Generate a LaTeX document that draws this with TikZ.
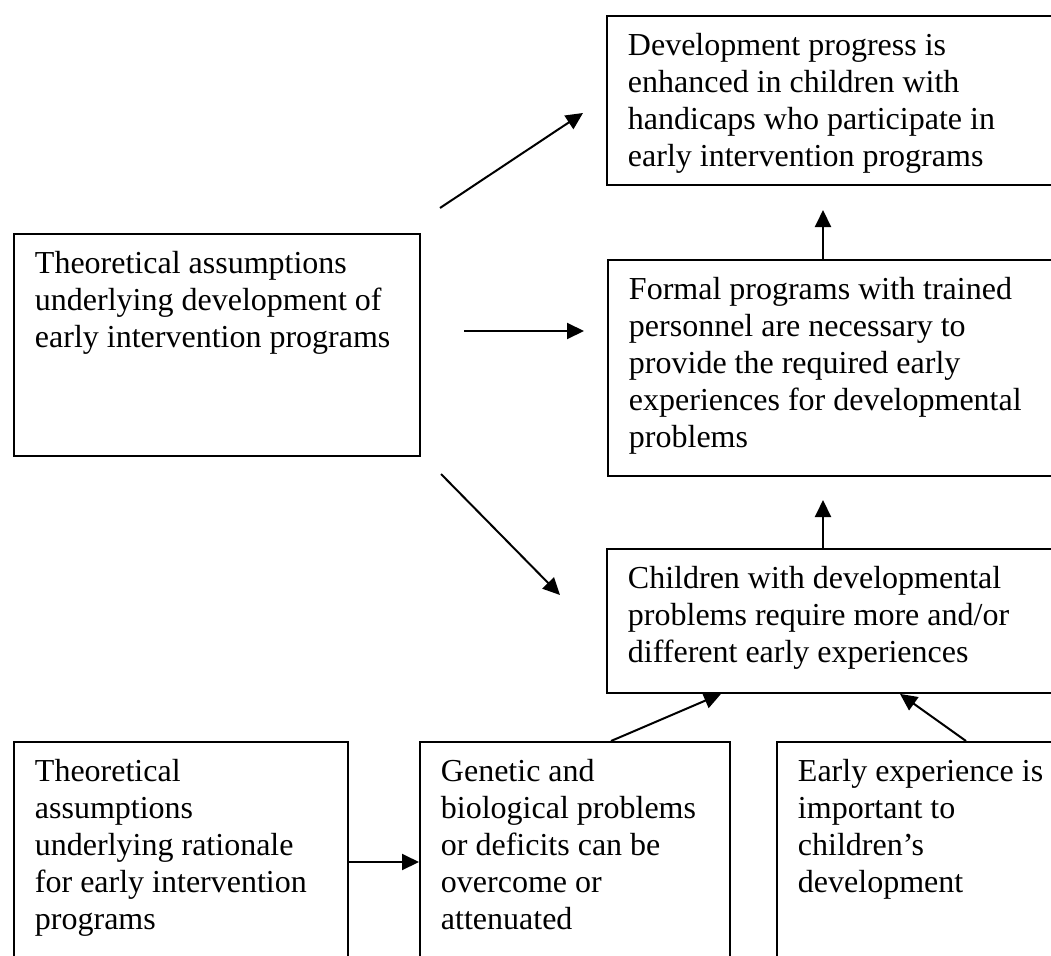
\documentclass[tikz,border=0pt]{standalone}
\usepackage{fontspec}
\setmainfont{Liberation Serif}
\usetikzlibrary{arrows.meta}
\tikzset{
  boxnode/.style={draw, line width=1.9pt, anchor=north west, inner xsep=21pt, inner ysep=13.6pt,
    font=\fontsize{32}{37}\selectfont},
  arr/.style={line width=2pt, -{Triangle[length=17pt,width=16pt]}}
}
\newcommand\boxtext[3]{\parbox[t][#2pt][t]{#1pt}{\raggedright\strut #3}}
\begin{document}
\begin{tikzpicture}[x=1pt,y=-1pt]
\useasboundingbox (0,0) rectangle (1051,955);
\fill[white] (0,0) rectangle (1051,955);
\clip (0,0) rectangle (1051,955);

\node[boxnode] (A) at (606,15) {\boxtext{438}{141.8}{Development progress is\\ enhanced in children with\\ handicaps who participate in\\ early intervention programs}};
\node[boxnode] (B) at (13,233) {\boxtext{364}{194.8}{Theoretical assumptions\\ underlying development of\\ early intervention programs}};
\node[boxnode] (C) at (607,259) {\boxtext{438}{188.8}{Formal programs with trained\\ personnel are necessary to\\ provide the required early\\ experiences for developmental\\ problems}};
\node[boxnode] (D) at (606,548) {\boxtext{438}{116.8}{Children with developmental\\ problems require more and/or\\ different early experiences}};
\node[boxnode] (E) at (13,741) {\boxtext{292}{300}{Theoretical\\ assumptions\\ underlying rationale\\ for early intervention\\ programs}};
\node[boxnode] (F) at (419,741) {\boxtext{268}{300}{Genetic and\\ biological problems\\ or deficits can be\\ overcome or\\ attenuated}};
\node[boxnode] (G) at (776,741) {\boxtext{358}{300}{Early experience is\\ important to\\ children’s\\ development}};

\coordinate (s1) at (440,208);
\coordinate (t1) at (583,113);
\coordinate (s2) at (464,331);
\coordinate (t2) at (584,331);
\coordinate (s3) at (441,474);
\coordinate (t3) at (560,595);
\coordinate (t4) at (823,210);
\coordinate (t5) at (823,500);
\coordinate (s6) at (611,741);
\coordinate (t6) at (721,692);
\coordinate (s7) at (966,741);
\coordinate (t7) at (900,692);
\coordinate (m8) at (380,862);

\draw[arr] (s1) -- (t1);
\draw[arr] (s2) -- (t2);
\draw[arr] (s3) -- (t3);
\draw[arr] (t4 |- C.north) -- (t4);
\draw[arr] (t5 |- D.north) -- (t5);
\draw[arr] (s6 |- F.north) -- (t6 |- D.south);
\draw[arr] (s7 |- G.north) -- (t7 |- D.south);
\draw[arr] (E.east |- m8) -- (F.west |- m8);
\end{tikzpicture}
\end{document}
